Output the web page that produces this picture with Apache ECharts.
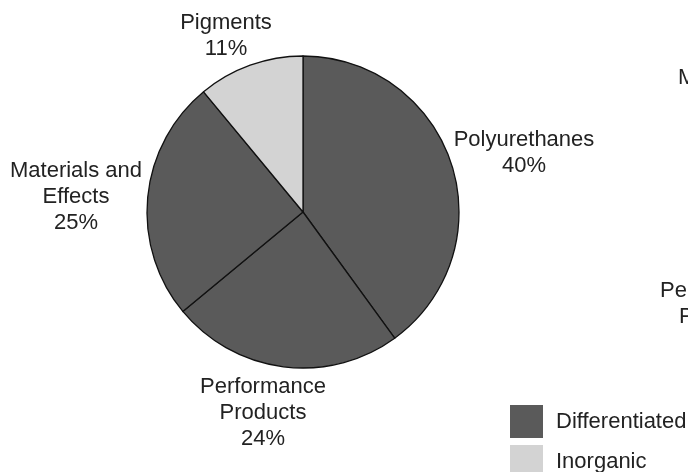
<!DOCTYPE html>
<html><head><meta charset="utf-8">
<script src="https://cdn.jsdelivr.net/npm/echarts@6/dist/echarts.min.js"></script>
<style>html,body{margin:0;padding:0;background:#fff}#c{width:688px;height:472px}</style>
</head><body><div id="c"></div>
<script>
const categories = ['Polyurethanes', 'Performance\nProducts', 'Materials and\nEffects', 'Pigments'];
const shares = [40, 24, 25, 11];
const groups = ['Differentiated', 'Differentiated', 'Differentiated', 'Inorganic'];
const legendNames = ['Differentiated', 'Inorganic'];
const groupColors = {Differentiated: '#5a5a5a', Inorganic: '#d3d3d3'};

const labelPos = [[524, 153], [263, 413], [76, 197], [226, 36]];
const FONT = 'Liberation Sans, Arial, sans-serif';
const FS = 22;

const legendBase = {
  orient: 'vertical', left: 510, itemWidth: 33, itemHeight: 33, padding: 0,
  icon: 'rect', selectedMode: false,
  textStyle: {fontFamily: FONT, fontSize: FS, color: '#222', padding: [0, 0, 0, 8]}
};

const chart = echarts.init(document.getElementById('c'), null, {renderer: 'canvas'});
chart.setOption({
  animation: false,
  backgroundColor: '#fff',
  legend: [
    Object.assign({}, legendBase, {top: 405, data: [legendNames[0]]}),
    Object.assign({}, legendBase, {top: 445, data: [legendNames[1]]})
  ],
  graphic: [
    {type: 'text', left: 678, top: 67, style: {text: 'Materials and', font: FS + 'px ' + FONT, fill: '#222'}},
    {type: 'text', left: 660, top: 280, style: {text: 'Performance', font: FS + 'px ' + FONT, fill: '#222'}},
    {type: 'text', left: 679, top: 306, style: {text: 'Products', font: FS + 'px ' + FONT, fill: '#222'}}
  ],
  series: [
    {
      type: 'pie', center: [303, 212], radius: 156, startAngle: 90, clockwise: true,
      silent: true,
      itemStyle: {borderColor: '#111', borderWidth: 1.3},
      label: {
        show: true, position: 'outside', formatter: p => p.name + '\n' + p.value + '%',
        fontFamily: FONT, fontSize: FS, lineHeight: 26, color: '#222', align: 'center',
        overflow: 'none', width: 200
      },
      labelLine: {show: false},
      labelLayout: p => ({x: labelPos[p.dataIndex][0], y: labelPos[p.dataIndex][1], align: 'center', verticalAlign: 'middle'}),
      data: categories.map((c, i) => ({name: c, value: shares[i], itemStyle: {color: groupColors[groups[i]]}}))
    },
    {
      type: 'pie', center: [-100, -100], radius: 0, silent: true,
      label: {show: false}, labelLine: {show: false},
      data: legendNames.map(n => ({name: n, value: 1, itemStyle: {color: groupColors[n]}}))
    }
  ]
});
</script></body></html>
